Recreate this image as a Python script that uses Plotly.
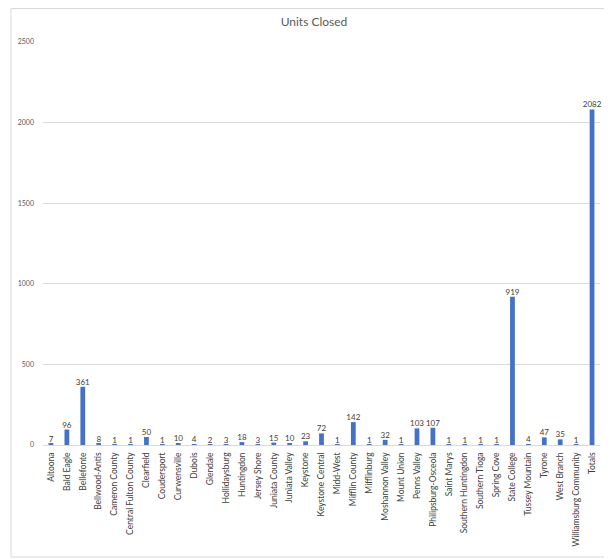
import plotly.graph_objects as go

categories = ["Altoona", "Bald Eagle", "Bellefonte", "Bellwood-Antis", "Cameron County",
              "Central Fulton County", "Clearfield", "Coudersport", "Curwensville", "Dubois",
              "Glendale", "Hollidaysburg", "Huntingdon", "Jersey Shore", "Juniata County",
              "Juniata Valley", "Keystone", "Keystone Central", "Midd-West", "Mifflin County",
              "Mifflinburg", "Moshannon Valley", "Mount Union", "Penns Valley",
              "Philipsburg-Osceola", "Saint Marys", "Southern Huntingdon", "Southern Tioga",
              "Spring Cove", "State College", "Tussey Mountain", "Tyrone", "West Branch",
              "Williamsburg Community", "Totals"]
units_closed = [7, 96, 361, 8, 1, 1, 50, 1, 10, 4, 2, 3, 18, 3, 15, 10, 23, 72, 1, 142,
                1, 32, 1, 103, 107, 1, 1, 1, 1, 919, 4, 47, 35, 1, 2082]
y_ticks = [0, 500, 1000, 1500, 2000, 2500]

fig = go.Figure()
fig.add_trace(go.Bar(
    x=categories, y=units_closed,
    marker=dict(color="#4472C4", line=dict(width=0)),
    width=0.3, hoverinfo="x+y",
))
fig.add_trace(go.Scatter(
    x=categories, y=units_closed, mode="text",
    text=[str(v) for v in units_closed], textposition="top center",
    textfont=dict(size=8, color="#404040", family="Lato"),
    cliponaxis=False, hoverinfo="skip",
))

fig.update_layout(
    width=612, height=559,
    margin=dict(l=35, r=20, t=34, b=122, autoexpand=False),
    paper_bgcolor="white", plot_bgcolor="white",
    font=dict(family="Lato", color="#595959"),
    title=dict(text="Units Closed", x=0.5, xanchor="center", y=0.975, yanchor="middle",
               font=dict(size=12, color="#595959", family="Lato")),
    showlegend=False,
    xaxis=dict(range=[-0.5, len(categories) - 0.5], tickangle=-90,
               tickfont=dict(size=8.5, color="#404040"), showgrid=False,
               showline=True, linecolor="#d9d9d9", linewidth=1, ticks="", automargin=False,
               ticklabelstandoff=3),
    yaxis=dict(range=[0, 2500], tickvals=y_ticks, tickfont=dict(size=7, color="#595959"),
               showgrid=True, gridcolor="#d9d9d9", gridwidth=1, zeroline=False,
               showline=False, ticks="", ticklabelstandoff=8, automargin=False),
    shapes=[dict(type="rect", xref="paper", yref="paper",
                 x0=-0.0575, x1=1.0198, y0=-0.278, y1=1.083,
                 line=dict(color="#d9d9d9", width=1), fillcolor="rgba(0,0,0,0)")],
)

fig.write_html("out.html")
